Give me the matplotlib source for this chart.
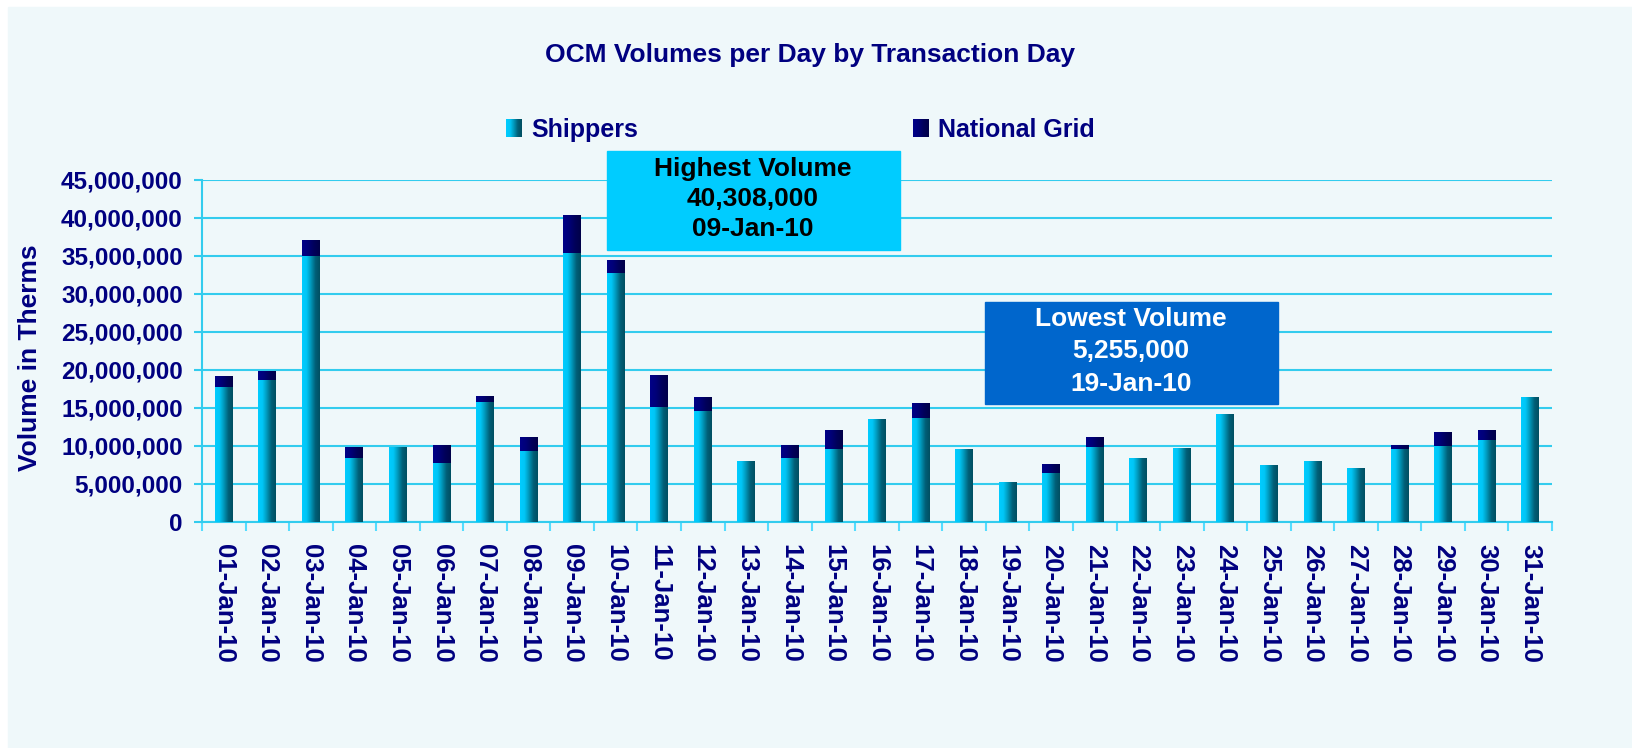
# -*- coding: utf-8 -*-
"""OCM volumes per day by transaction day, Jan 2010 (stacked bars, gradient fill)."""

import numpy as np
import matplotlib
matplotlib.use("Agg")
import matplotlib.pyplot as plt
from matplotlib.colors import LinearSegmentedColormap
from matplotlib.patches import Rectangle
from matplotlib.ticker import FuncFormatter

# =========================================================================
# Data (therms, in millions)
# =========================================================================

DATES = [f"{d:02d}-Jan-10" for d in range(1, 32)]

SHIPPERS_M = [
    17.8, 18.7, 35.0, 8.45, 9.77, 7.7, 15.8, 9.4, 35.4, 32.7,
    15.1, 14.6, 8.0, 8.4, 9.6, 13.5, 13.7, 9.5, 5.255, 6.4,
    9.9, 8.3, 9.7, 14.2, 7.5, 8.0, 7.1, 9.6, 10.0, 10.8, 16.4,
]
NATIONAL_GRID_M = [
    1.4, 1.1, 2.0, 1.35, 0.0, 2.3, 0.7, 1.8, 4.908, 1.6,
    4.1, 1.8, 0.0, 1.6, 2.5, 0.0, 1.9, 0.0, 0.0, 1.1,
    1.3, 0.0, 0.0, 0.0, 0.0, 0.0, 0.0, 0.5, 1.8, 1.3, 0.0,
]

TITLE = "OCM Volumes per Day by Transaction Day"
Y_LABEL = "Volume in Therms"
HIGH_LINES = ["Highest Volume", "40,308,000", "09-Jan-10"]
LOW_LINES = ["Lowest Volume", "5,255,000", "19-Jan-10"]

# =========================================================================
# Style
# =========================================================================

W, H = 1633, 748
NAVY = "#000080"
CYAN_LINE = "#33CCEE"
PANEL_BG = "#EFF8FA"

plt.rcParams["font.family"] = ["Liberation Sans", "DejaVu Sans"]
plt.rcParams["font.weight"] = "bold"

SHIP_CMAP = LinearSegmentedColormap.from_list(
    "ship", ["#00CCFF", "#00C6F6", "#0096B8", "#006078", "#004F62"])
NG_CMAP = LinearSegmentedColormap.from_list(
    "ng", ["#000088", "#000078", "#00005A", "#000048"])


def fx(px):
    return px / W


def fy(py):
    return 1 - py / H


def paint_gradient(ax, rect, cmap):
    """Fill one bar rectangle with a left-to-right gradient."""
    x, y = rect.get_x(), rect.get_y()
    w, h = rect.get_width(), rect.get_height()
    if h <= 0:
        return
    grad = np.linspace(0, 1, 64).reshape(1, -1)
    ax.imshow(grad, cmap=cmap, extent=[x, x + w, y, y + h],
              aspect="auto", zorder=3, interpolation="bilinear")


def main():
    fig = plt.figure(figsize=(W / 100, H / 100), dpi=100, facecolor="white")
    fig.patches.append(Rectangle((fx(8), 0), 1, fy(7), transform=fig.transFigure,
                                 color=PANEL_BG, zorder=-10))

    ax = fig.add_axes([fx(202), fy(522), fx(1552) - fx(202), fy(180) - fy(522)])
    ax.patch.set_alpha(0)

    x = np.arange(len(DATES))
    ship = np.array(SHIPPERS_M) * 1e6
    ng = np.array(NATIONAL_GRID_M) * 1e6

    bars_s = ax.bar(x, ship, width=0.41, color="none", edgecolor="none")
    bars_n = ax.bar(x, ng, width=0.41, bottom=ship, color="none", edgecolor="none")
    for r in bars_s:
        paint_gradient(ax, r, SHIP_CMAP)
    for r in bars_n:
        paint_gradient(ax, r, NG_CMAP)

    ax.set_xlim(-0.5, len(DATES) - 0.5)
    ax.set_ylim(0, 45e6)

    # y axis
    ax.set_yticks(np.arange(0, 45e6 + 1, 5e6))
    ax.yaxis.set_major_formatter(FuncFormatter(lambda v, p: f"{v:,.0f}"))
    ax.tick_params(axis="y", length=5.8, width=1.5, color=CYAN_LINE, pad=8,
                   labelsize=17.5, labelcolor=NAVY)
    ax.yaxis.grid(True, color=CYAN_LINE, linewidth=1.5, zorder=1)
    ax.set_axisbelow(True)

    # x axis: labels at centres, tick marks at category edges
    ax.set_xticks(x)
    ax.set_xticklabels(DATES, rotation=-90)
    ax.tick_params(axis="x", which="major", length=0, pad=16,
                   labelsize=18.5, labelcolor=NAVY)
    ax.set_xticks(np.arange(-0.5, len(DATES), 1), minor=True)
    ax.tick_params(axis="x", which="minor", length=6.5, width=1.5, color="#55DDFF")

    for side in ("top", "right"):
        ax.spines[side].set_visible(False)
    for side in ("left", "bottom"):
        ax.spines[side].set_color(CYAN_LINE)
        ax.spines[side].set_linewidth(1.5)

    fig.text(fx(30), fy(358), Y_LABEL, rotation=90, ha="center", va="center",
             fontsize=19, color=NAVY)
    fig.text(fx(810), fy(55), TITLE, ha="center", va="center",
             fontsize=19, color=NAVY)

    # legend (drawn by hand so the swatches keep the gradient)
    for (x0, label, cmap) in [(506, "Shippers", SHIP_CMAP),
                              (913, "National Grid", NG_CMAP)]:
        sw = fig.add_axes([fx(x0), fy(137), fx(16), fy(119) - fy(137)])
        sw.imshow(np.linspace(0, 1, 32).reshape(1, -1), cmap=cmap, aspect="auto")
        sw.set_axis_off()
        fig.text(fx(x0 + 25), fy(130), label, ha="left", va="center",
                 fontsize=18, color=NAVY)

    # annotation boxes
    fig.patches.append(Rectangle((fx(607), fy(250)), fx(900) - fx(607), fy(151) - fy(250),
                                 transform=fig.transFigure, color="#00CCFF", zorder=5))
    for line, yy in zip(HIGH_LINES, (169, 199, 229)):
        fig.text(fx(753), fy(yy), line, ha="center", va="center",
                 fontsize=19, color="black", zorder=6)

    fig.patches.append(Rectangle((fx(985), fy(404)), fx(1278) - fx(985), fy(302) - fy(404),
                                 transform=fig.transFigure, color="#0066CC", zorder=5))
    for line, yy in zip(LOW_LINES, (319, 351, 384)):
        fig.text(fx(1131), fy(yy), line, ha="center", va="center",
                 fontsize=19, color="white", zorder=6)

    fig.savefig("out.png", dpi=100)


if __name__ == "__main__":
    main()
